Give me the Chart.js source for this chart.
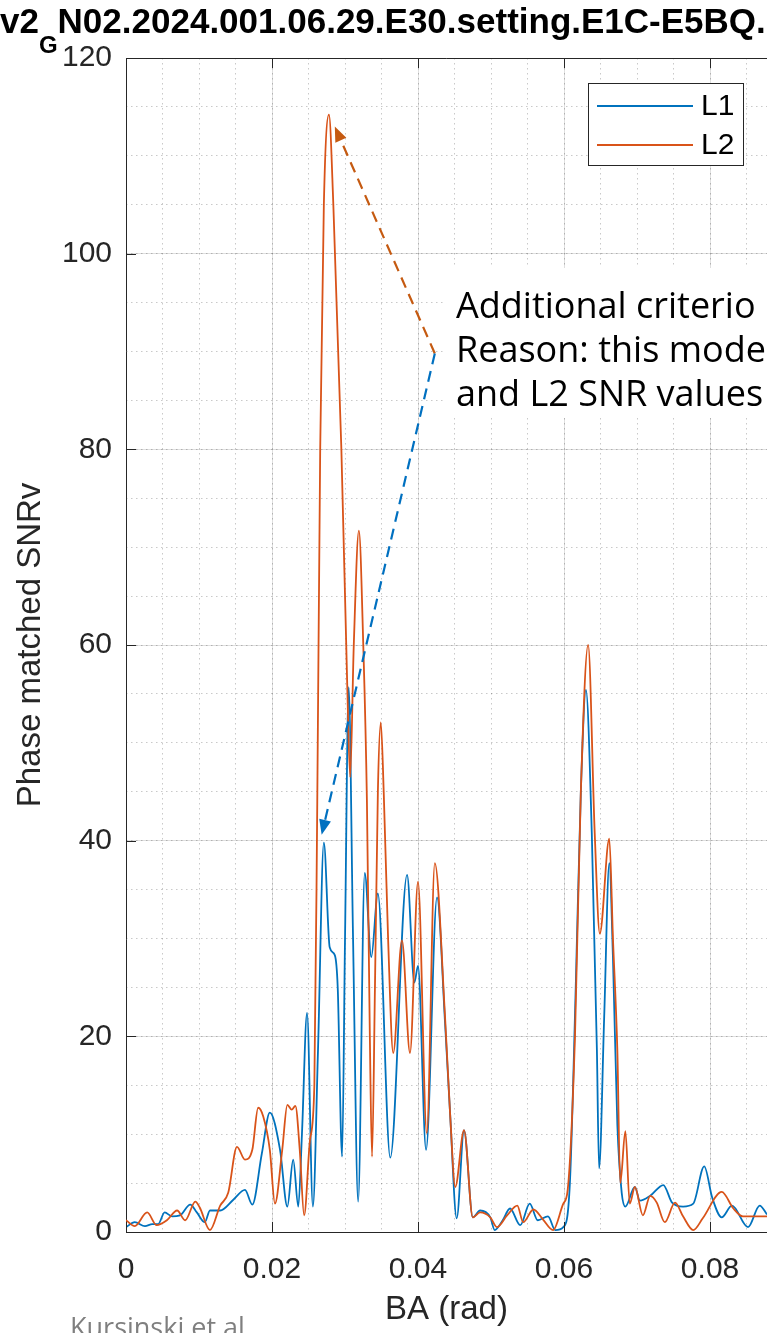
<!DOCTYPE html>
<html>
<head>
<meta charset="utf-8">
<script src="https://cdn.jsdelivr.net/npm/chart.js@4.4.1/dist/chart.umd.min.js"></script>
<style>
  html, body { margin: 0; padding: 0; background: #fff; }
  #wrap { width: 767px; height: 1333px; overflow: hidden; }
</style>
</head>
<body>
<div id="wrap"><canvas id="c" width="767" height="1333"></canvas></div>
<script>
// values (BA in rad, SNRv)
const l1X = [0.0000,0.0012,0.0026,0.0036,0.0044,0.0053,0.0063,0.0074,0.0088,0.0097,
  0.0108,0.0115,0.0129,0.0147,0.0163,0.0173,0.0186,0.0197,0.0211,0.0221,
  0.0229,0.0236,0.0241,0.0248,0.0256,0.0263,0.0271,0.0279,0.0286,0.0290,
  0.0296,0.0300,0.0305,0.0311,0.0318,0.0327,0.0336,0.0345,0.0362,0.0385,
  0.0395,0.0400,0.0411,0.0426,0.0437,0.0444,0.0453,0.0463,0.0475,0.0485,
  0.0499,0.0505,0.0516,0.0526,0.0540,0.0553,0.0564,0.0578,0.0588,0.0599,
  0.0608,0.0616,0.0623,0.0630,0.0638,0.0645,0.0648,0.0655,0.0662,0.0667,
  0.0673,0.0679,0.0684,0.0697,0.0704,0.0718,0.0736,0.0748,0.0763,0.0777,
  0.0792,0.0803,0.0816,0.0830,0.0852,0.0868,0.0878];
const l1Y = [0.5,1.0,0.6,0.8,0.8,2.0,1.6,1.7,2.8,2.0,
  1.0,2.2,2.2,3.3,4.3,2.8,8.0,12.2,8.4,2.6,
  7.4,2.6,10,22.4,2.6,18.6,39.8,29.1,28.3,25,
  7.7,30,55.7,30,3.1,36.7,28.1,34.6,7.6,36.5,
  25.5,27.2,8.4,34.2,21.4,12,1.4,10.4,1.5,2.2,
  1.5,0.2,1.2,2.4,0.7,2.9,1.2,1.6,0.2,0.5,
  5,25,45,55.4,40.8,18.6,6.5,22,37.7,28,
  11,4,2.6,4.6,3.2,3.7,4.8,3.0,2.6,2.9,
  6.7,3.5,1.5,2.7,0.5,2.7,1.8];

const l2X = [0.0000,0.0012,0.0029,0.0042,0.0056,0.0070,0.0081,0.0095,0.0101,0.0115,
  0.0129,0.0140,0.0152,0.0163,0.0173,0.0181,0.0188,0.0197,0.0204,0.0214,
  0.0221,0.0227,0.0232,0.0238,0.0244,0.0252,0.0258,0.0262,0.0266,0.0271,
  0.0278,0.0284,0.0295,0.0303,0.0307,0.0312,0.0319,0.0325,0.0330,0.0334,
  0.0337,0.0341,0.0345,0.0349,0.0353,0.0359,0.0366,0.0378,0.0389,0.0400,
  0.0412,0.0423,0.0437,0.0444,0.0451,0.0463,0.0475,0.0485,0.0499,0.0508,
  0.0522,0.0536,0.0544,0.0558,0.0571,0.0585,0.0599,0.0605,0.0615,0.0623,
  0.0633,0.0642,0.0649,0.0662,0.0667,0.0673,0.0677,0.0684,0.0690,0.0697,
  0.0708,0.0718,0.0727,0.0738,0.0752,0.0763,0.0777,0.0790,0.0816,0.0832,
  0.0845,0.0878];
const l2Y = [1.2,0.6,2.0,0.7,1.2,2.2,1.2,3.1,2.5,0.2,
  2.7,4.0,8.7,7.4,8.4,12.7,11.8,8.4,2.9,8.4,
  13.0,12.5,12.9,8.4,1.7,9.4,15,44,80,105,
  114.2,105,80,56,46.5,60,71.7,60,44,20,
  7.7,25,45,52.1,45,30,18.3,29.8,18.3,35.8,
  10.1,37.7,22,12,4.6,10.4,1.5,2.0,1.5,0.5,
  1.7,2.7,1.0,2.3,1.3,0.2,2.9,4.3,20,45,
  60.0,40.8,30.5,40.2,30,18.6,5.0,10.3,2.9,4.6,
  1.7,3.7,3.0,1.0,3.0,1.6,0.2,1.4,4.1,2.4,
  1.6,1.6];

const xTicks = [0, 0.02, 0.04, 0.06, 0.08];
const yTicks = [0, 20, 40, 60, 80, 100, 120];

// arrow annotation, in data units
const arrowFrom = { x: 0.0423, y: 89.8 };
const arrowL2 = { x: 0.0286, y: 113.0 };
const arrowL1 = { x: 0.0268, y: 40.6 };

const AXIS = '#262626';
const SANS = '"Liberation Sans", Arial, Helvetica, sans-serif';
const NOTE = '"Open Sans", "Noto Sans", sans-serif';

function pts(xs, ys) {
  return xs.map((x, i) => ({ x: x, y: ys[i] }));
}

function arrow(ctx, x0, y0, x1, y1, color) {
  const ang = Math.atan2(y1 - y0, x1 - x0);
  const head = 15, half = 6;
  const bx = x1 - head * Math.cos(ang), by = y1 - head * Math.sin(ang);
  ctx.strokeStyle = color;
  ctx.fillStyle = color;
  ctx.lineWidth = 2.2;
  ctx.setLineDash([11, 7]);
  ctx.beginPath();
  ctx.moveTo(x0, y0);
  ctx.lineTo(bx, by);
  ctx.stroke();
  ctx.setLineDash([]);
  ctx.beginPath();
  ctx.moveTo(x1, y1);
  ctx.lineTo(bx + half * Math.sin(ang), by - half * Math.cos(ang));
  ctx.lineTo(bx - half * Math.sin(ang), by + half * Math.cos(ang));
  ctx.closePath();
  ctx.fill();
}

const decor = {
  id: 'decor',
  afterDatasetsDraw(chart) {
    const { ctx, chartArea: a, scales } = chart;
    const x = scales.x, y = scales.y;
    ctx.save();

    // box top + inward ticks
    ctx.strokeStyle = AXIS;
    ctx.lineWidth = 1;
    ctx.beginPath();
    ctx.moveTo(a.left, a.top + 0.5);
    ctx.lineTo(a.right, a.top + 0.5);
    x.ticks.forEach(t => {
      const p = Math.round(x.getPixelForValue(t.value)) + 0.5;
      ctx.moveTo(p, a.bottom);
      ctx.lineTo(p, a.bottom - 10);
      ctx.moveTo(p, a.top);
      ctx.lineTo(p, a.top + 10);
    });
    y.ticks.forEach(t => {
      const p = Math.round(y.getPixelForValue(t.value)) + 0.5;
      ctx.moveTo(a.left, p);
      ctx.lineTo(a.left + 10, p);
    });
    ctx.stroke();

    // legend
    ctx.fillStyle = '#fff';
    ctx.fillRect(588, 83, 155, 82);
    ctx.strokeRect(588.5, 83.5, 155, 82);
    ctx.font = '30px ' + SANS;
    ctx.textBaseline = 'middle';
    ctx.textAlign = 'left';
    chart.data.datasets.forEach((ds, i) => {
      const ly = 106 + i * 39;
      ctx.strokeStyle = ds.borderColor;
      ctx.lineWidth = 1.8;
      ctx.beginPath();
      ctx.moveTo(597, ly);
      ctx.lineTo(693, ly);
      ctx.stroke();
      ctx.fillStyle = '#000';
      ctx.fillText(ds.label, 701, ly + 1);
    });

    // note box
    ctx.fillStyle = '#fff';
    ctx.fillRect(443, 268, 330, 150);
    ctx.fillStyle = '#000';
    ctx.font = '36px ' + NOTE;
    ctx.textBaseline = 'alphabetic';
    ctx.fillText('Additional criterio', 456, 318);
    ctx.fillText('Reason: this mode', 456, 362);
    ctx.fillText('and L2 SNR values', 456, 406);

    // arrows
    const fx = x.getPixelForValue(arrowFrom.x), fy = y.getPixelForValue(arrowFrom.y);
    arrow(ctx, fx, fy, x.getPixelForValue(arrowL2.x), y.getPixelForValue(arrowL2.y), '#C55A11');
    arrow(ctx, fx, fy, x.getPixelForValue(arrowL1.x), y.getPixelForValue(arrowL1.y), '#0070C0');

    ctx.restore();
  },
  afterDraw(chart) {
    const ctx = chart.ctx;
    ctx.save();
    ctx.fillStyle = '#000';
    ctx.textBaseline = 'alphabetic';
    ctx.textAlign = 'left';
    ctx.font = 'bold 35px ' + SANS;
    const w = ctx.measureText('v2').width;
    ctx.fillText('v2', 0, 33);
    ctx.font = 'bold 24px ' + SANS;
    ctx.fillText('G', w, 53);
    const g = ctx.measureText('G').width;
    ctx.font = 'bold 35px ' + SANS;
    ctx.fillText('N02.2024.001.06.29.E30.setting.E1C-E5BQ.', w + g, 33);

    ctx.fillStyle = '#7f7f7f';
    ctx.font = '27px ' + NOTE;
    ctx.fillText('Kursinski et al.', 70, 1337);
    ctx.restore();
  }
};

const ctx = document.getElementById('c').getContext('2d');
new Chart(ctx, {
  type: 'line',
  data: {
    datasets: [
      { label: 'L1', data: pts(l1X, l1Y), borderColor: '#0072BD', borderWidth: 1.8,
        pointRadius: 0, cubicInterpolationMode: 'monotone', fill: false, order: 1 },
      { label: 'L2', data: pts(l2X, l2Y), borderColor: '#D95319', borderWidth: 1.8,
        pointRadius: 0, cubicInterpolationMode: 'monotone', fill: false, order: 0 }
    ]
  },
  options: {
    responsive: false,
    animation: false,
    events: [],
    layout: { padding: { top: 58, left: 0, right: 0, bottom: 0 } },
    plugins: { legend: { display: false }, tooltip: { enabled: false } },
    scales: {
      x: {
        type: 'linear', position: 'bottom', min: 0, max: 0.0878,
        afterBuildTicks: s => { s.ticks = xTicks.map(v => ({ value: v })); },
        ticks: {
          autoSkip: false, maxRotation: 0, padding: 20, color: AXIS,
          font: { family: SANS, size: 30 },
          callback: v => String(+v.toFixed(3))
        },
        grid: { color: 'rgba(38,38,38,0.15)', drawTicks: false },
        border: { color: AXIS, width: 1 },
        title: { display: true, text: 'BA (rad)', color: AXIS,
          font: { family: SANS, size: 33 }, padding: { top: 0, bottom: 3 } },
        afterFit: s => { s.height = 101; }
      },
      xm: {
        type: 'linear', position: 'top', min: 0, max: 0.0878,
        ticks: { display: false, stepSize: 0.005, includeBounds: false },
        grid: { color: 'rgba(38,38,38,0.25)', drawTicks: false },
        border: { display: false, dash: [1.5, 3.5] },
        afterFit: s => { s.height = 0; }
      },
      y: {
        min: 0, max: 120,
        afterBuildTicks: s => { s.ticks = yTicks.map(v => ({ value: v })); },
        ticks: { padding: 14, color: AXIS, font: { family: SANS, size: 30 } },
        grid: { color: 'rgba(38,38,38,0.15)', drawTicks: false },
        border: { color: AXIS, width: 1 },
        title: { display: true, text: 'Phase matched SNRv', color: AXIS,
          font: { family: SANS, size: 33 }, padding: { top: 11 } },
        afterFit: s => { s.width = 126; }
      },
      ym: {
        position: 'right', min: 0, max: 120,
        ticks: { display: false, stepSize: 5 },
        grid: { color: 'rgba(38,38,38,0.25)', drawTicks: false },
        border: { display: false, dash: [1.5, 3.5] },
        afterFit: s => { s.width = 0; }
      }
    }
  },
  plugins: [decor]
});
</script>
</body>
</html>
